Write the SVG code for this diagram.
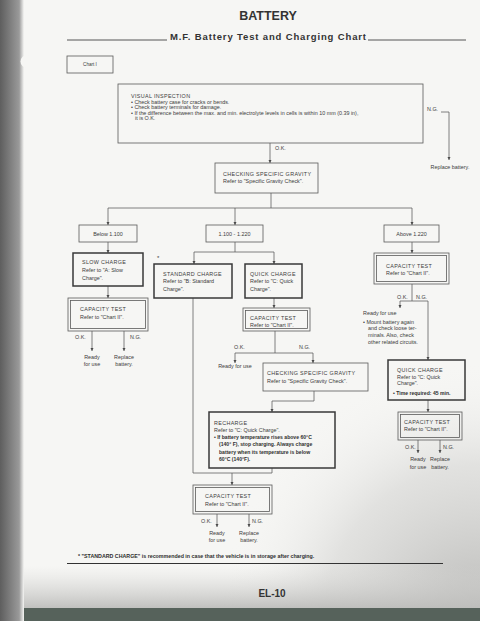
<svg xmlns="http://www.w3.org/2000/svg" width="480" height="621" viewBox="0 0 480 621">
<defs>
<style>
text{font-family:"Liberation Sans",Arial,sans-serif;fill:#3c3c3c;font-size:5.4px}
.h{letter-spacing:.35px}
.c{text-anchor:middle}
.bd{font-weight:bold;fill:#2e2e2e;font-size:5.1px}
.box{fill:none;stroke:#5a5a5a;stroke-width:.8}
.thk{fill:none;stroke:#383838;stroke-width:1.5}
.ln{fill:none;stroke:#5a5a5a;stroke-width:.75}
.ar{marker-end:url(#a)}
</style>
<marker id="a" viewBox="0 0 6 6" refX="6" refY="3" markerWidth="3.4" markerHeight="3.4" orient="auto" markerUnits="userSpaceOnUse"><path d="M0,0L6,3L0,6z" fill="#4a4a4a"/></marker>
<linearGradient id="lg" x1="0" x2="1" y1="0" y2="0"><stop offset="0" stop-color="#5e5e5e"/><stop offset=".8" stop-color="#9a9a9a"/><stop offset="1" stop-color="#f6f6f4"/></linearGradient>
<linearGradient id="bg" x1="0" x2="0" y1="0" y2="1"><stop offset="0" stop-color="#d8d8d6" stop-opacity="0"/><stop offset="1" stop-color="#bdbdbb"/></linearGradient>
<radialGradient id="rg" cx="480" cy="621" r="260" gradientUnits="userSpaceOnUse"><stop offset="0" stop-color="#b8b8b6"/><stop offset=".6" stop-color="#d4d4d2" stop-opacity=".6"/><stop offset="1" stop-color="#f6f6f4" stop-opacity="0"/></radialGradient>
</defs>
<rect width="480" height="621" fill="#f6f6f4"/>
<rect x="220" y="360" width="260" height="261" fill="url(#rg)"/>
<rect x="0" y="566" width="480" height="44" fill="url(#bg)"/>
<rect x="0" y="608" width="480" height="13" fill="#56625b"/>
<rect x="0" y="0" width="24" height="621" fill="url(#lg)"/>
<circle cx="27" cy="61.5" r="6.5" fill="#f6f6f4"/>

<g id="title">
<text x="268" y="19.5" class="c" style="font-size:12.5px;font-weight:bold;fill:#333">BATTERY</text>
<text x="170" y="39.5" textLength="196" style="font-size:9.5px;font-weight:bold;fill:#333">M.F. Battery Test and Charging Chart</text>
<line x1="67" y1="40" x2="167" y2="40" stroke="#444" stroke-width=".9"/>
<line x1="368" y1="40" x2="466" y2="40" stroke="#444" stroke-width=".9"/>
</g>

<g id="chart-label">
<rect x="67" y="56" width="46" height="17" class="box"/>
<text x="90" y="66" class="c" style="font-size:4.6px">Chart I</text>
</g>

<g id="connectors">
<path class="ln ar" d="M441,112H449V160"/>
<path class="ln ar" d="M270,143V163"/>
<path class="ln" d="M271,193V208M108,208H412"/>
<path class="ln ar" d="M108,208V225"/>
<path class="ln ar" d="M235,208V225"/>
<path class="ln ar" d="M412,208V225"/>
<path class="ln ar" d="M108,242V253"/>
<path class="ln ar" d="M108,286V298"/>
<path class="ln ar" d="M92,331V351"/>
<path class="ln ar" d="M124,331V351"/>
<path class="ln" d="M235,242V252M194,252H274"/>
<path class="ln ar" d="M194,252V264"/>
<path class="ln ar" d="M274,252V264"/>
<path class="ln ar" d="M274,298V308"/>
<path class="ln" d="M275,331V353M235,353H313"/>
<path class="ln ar" d="M235,353V363"/>
<path class="ln ar" d="M313,353V363"/>
<path class="ln ar" d="M314,391V401H272V412"/>
<path class="ln" d="M193,298V473H272V468"/>
<path class="ln ar" d="M232,473V485"/>
<path class="ln ar" d="M217,514V527"/>
<path class="ln ar" d="M249,514V527"/>
<path class="ln ar" d="M412,242V253"/>
<path class="ln" d="M412,284V301M400,301H428"/>
<path class="ln ar" d="M400,301V308"/>
<path class="ln ar" d="M428,301V360"/>
<path class="ln ar" d="M428,400V412"/>
<path class="ln ar" d="M418,440V453"/>
<path class="ln ar" d="M440,440V453"/>
</g>

<g id="visual-inspection">
<rect x="118" y="84" width="305" height="59" class="box"/>
<text x="131" y="98" class="h">VISUAL INSPECTION</text>
<text x="131" y="103.5">• Check battery case for cracks or bends.</text>
<text x="131" y="109">• Check battery terminals for damage.</text>
<text x="131" y="114.5">• If the difference between the max. and min. electrolyte levels in cells is within 10 mm (0.39 in),</text>
<text x="135" y="120">it is O.K.</text>
</g>
<g id="labels-top">
<text x="427" y="111">N.G.</text>
<text x="450" y="169" class="c">Replace battery.</text>
<text x="275" y="150">O.K.</text>
</g>

<g id="check-gravity-1">
<rect x="215" y="163" width="103" height="30" class="box"/>
<text x="223" y="176" class="h">CHECKING SPECIFIC GRAVITY</text>
<text x="223" y="183">Refer to "Specific Gravity Check".</text>
</g>

<g id="below-1100">
<rect x="79" y="225" width="58" height="17" class="box"/>
<text x="108" y="235.5" class="c">Below 1.100</text>
</g>
<g id="range-1100-1220">
<rect x="206" y="225" width="57" height="17" class="box"/>
<text x="234.5" y="235.5" class="c">1.100 - 1.220</text>
</g>
<g id="above-1220">
<rect x="384" y="225" width="55" height="17" class="box"/>
<text x="411.5" y="235.5" class="c">Above 1.220</text>
</g>

<g id="slow-charge">
<rect x="73" y="253" width="70" height="33" class="thk"/>
<text x="82" y="264" class="h">SLOW CHARGE</text>
<text x="82" y="272">Refer to "A: Slow</text>
<text x="82" y="280">Charge".</text>
</g>
<g id="capacity-test-1">
<rect x="68" y="298" width="80" height="33" class="box"/>
<rect x="70.5" y="300.5" width="75" height="28" class="box"/>
<text x="80" y="311" class="h">CAPACITY TEST</text>
<text x="80" y="319">Refer to "Chart II".</text>
<text x="75" y="339">O.K.</text>
<text x="130" y="339">N.G.</text>
<text x="92" y="359" class="c">Ready</text>
<text x="92" y="366" class="c">for use</text>
<text x="124" y="359" class="c">Replace</text>
<text x="124" y="366" class="c">battery.</text>
</g>

<g id="standard-charge">
<text x="157" y="260" style="font-size:6px">*</text>
<rect x="154" y="264" width="78" height="34" class="thk"/>
<text x="163" y="276" class="h">STANDARD CHARGE</text>
<text x="163" y="283">Refer to "B: Standard</text>
<text x="163" y="291">Charge".</text>
</g>
<g id="quick-charge-1">
<rect x="245" y="264" width="57" height="34" class="thk"/>
<text x="250" y="276" class="h">QUICK CHARGE</text>
<text x="250" y="283">Refer to "C: Quick</text>
<text x="250" y="291">Charge".</text>
</g>
<g id="capacity-test-2">
<rect x="243" y="308" width="67" height="23" class="box"/>
<rect x="245.5" y="310.5" width="62" height="18" class="box"/>
<text x="250" y="320" class="h">CAPACITY TEST</text>
<text x="250" y="326.5">Refer to "Chart II".</text>
<text x="234" y="349">O.K.</text>
<text x="299" y="349">N.G.</text>
<text x="235" y="368" class="c">Ready for use</text>
</g>
<g id="check-gravity-2">
<rect x="263" y="363" width="105" height="28" class="box"/>
<text x="267" y="375" class="h">CHECKING SPECIFIC GRAVITY</text>
<text x="267" y="383">Refer to "Specific Gravity Check".</text>
</g>
<g id="recharge">
<rect x="209" y="412" width="126" height="56" class="thk"/>
<text x="214" y="425" class="h">RECHARGE</text>
<text x="214" y="431.5">Refer to "C: Quick Charge".</text>
<text x="214" y="438.5" class="bd">• If battery temperature rises above 60°C</text>
<text x="219" y="446" class="bd">(140° F), stop charging. Always charge</text>
<text x="219" y="453.5" class="bd">battery when its temperature is below</text>
<text x="219" y="461" class="bd">60°C (140°F).</text>
</g>
<g id="capacity-test-3">
<rect x="193" y="485" width="79" height="29" class="box"/>
<rect x="195.5" y="487.5" width="74" height="24" class="box"/>
<text x="205" y="498" class="h">CAPACITY TEST</text>
<text x="205" y="506">Refer to "Chart II".</text>
<text x="201" y="523">O.K.</text>
<text x="252" y="523">N.G.</text>
<text x="217" y="535" class="c">Ready</text>
<text x="217" y="542" class="c">for use</text>
<text x="249" y="535" class="c">Replace</text>
<text x="249" y="542" class="c">battery.</text>
</g>

<g id="capacity-test-4">
<rect x="374" y="253" width="75" height="31" class="box"/>
<rect x="376.5" y="255.5" width="70" height="26" class="box"/>
<text x="386" y="268" class="h">CAPACITY TEST</text>
<text x="386" y="275">Refer to "Chart II".</text>
<text x="397" y="298.5">O.K.</text>
<text x="416" y="298.5">N.G.</text>
</g>
<g id="ready-mount">
<text x="363" y="315">Ready for use</text>
<text x="363" y="323.5">• Mount battery again</text>
<text x="368" y="330">and check loose ter-</text>
<text x="368" y="337">minals.  Also, check</text>
<text x="368" y="344">other related circuits.</text>
</g>
<g id="quick-charge-2">
<rect x="388" y="360" width="77" height="40" class="thk"/>
<text x="397" y="372" class="h">QUICK CHARGE</text>
<text x="397" y="378.5">Refer to "C: Quick</text>
<text x="397" y="385">Charge".</text>
<text x="393" y="394.5" class="bd">• Time required: 45 min.</text>
</g>
<g id="capacity-test-5">
<rect x="398" y="412" width="64" height="28" class="box"/>
<rect x="400.5" y="414.5" width="59" height="23" class="box"/>
<text x="404" y="424" class="h">CAPACITY TEST</text>
<text x="404" y="430.5">Refer to "Chart II".</text>
<text x="405" y="449">O.K.</text>
<text x="443" y="449">N.G.</text>
<text x="418" y="461" class="c">Ready</text>
<text x="418" y="469" class="c">for use</text>
<text x="440" y="461" class="c">Replace</text>
<text x="440" y="469" class="c">battery.</text>
</g>

<g id="footnote">
<text x="78" y="558" class="bd" style="font-size:5.3px">*  "STANDARD CHARGE" is recommended in case that the vehicle is in storage after charging.</text>
<line x1="67" y1="563.5" x2="443" y2="563.5" stroke="#333" stroke-width="1.1"/>
<text x="272" y="597" class="c" style="font-size:10px;font-weight:bold;fill:#333">EL-10</text>
</g>
</svg>
